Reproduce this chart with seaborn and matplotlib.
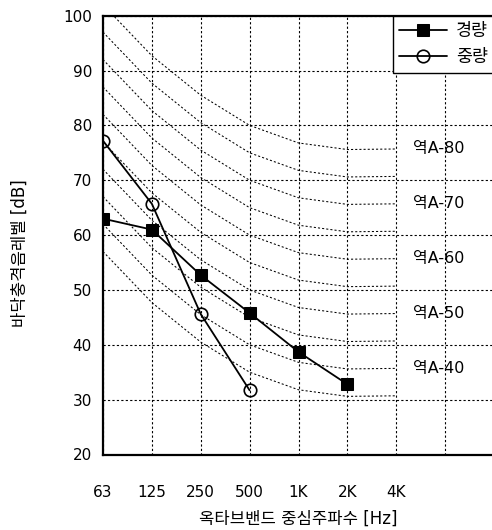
import pandas as pd
import matplotlib
matplotlib.use('Agg')
import matplotlib.pyplot as plt
import seaborn as sns

# octave band centres
bands = ['63', '125', '250', '500', '1K', '2K', '4K']
light_db = [63.0, 61.0, 52.7, 45.8, 38.7, 32.8]   # 경량
heavy_db = [77.2, 65.7, 45.6, 31.7]               # 중량

# 역A curves: shape relative to the 500 Hz value
inv_a_shape = [22.0, 12.7, 5.5, 0.0, -3.2, -4.4, -4.3]
inv_a_levels = [35, 40, 45, 50, 55, 60, 65, 70, 75, 80]
labelled_levels = [40, 50, 60, 70, 80]

sns.set_style('white')
plt.rcParams['font.family'] = ['DejaVu Sans', 'Noto Sans CJK KR']
plt.rcParams['text.color'] = 'black'
plt.rcParams['axes.labelcolor'] = 'black'

fig = plt.figure(figsize=(4.92, 5.30), dpi=100)
ax = fig.add_axes([103 / 492, 75.5 / 530, 391 / 492, 438.8 / 530])

dotted = (0, (2.0, 2.0))

# reference curves
for lvl in inv_a_levels:
    curve = pd.DataFrame({'x': range(len(bands)),
                          'y': [lvl + s for s in inv_a_shape]})
    sns.lineplot(data=curve, x='x', y='y', ax=ax, color='black', lw=0.75,
                 linestyle=dotted, zorder=2)
for lvl in labelled_levels:
    ax.text(6.35, lvl + inv_a_shape[-1], f'역A-{lvl}', fontsize=11.5,
            va='center', ha='left', color='black', zorder=3)

light = pd.DataFrame({'x': range(len(light_db)), 'y': light_db})
heavy = pd.DataFrame({'x': range(len(heavy_db)), 'y': heavy_db})
sns.lineplot(data=light, x='x', y='y', ax=ax, color='black', lw=1.3,
             marker='s', markersize=9, markerfacecolor='black',
             markeredgecolor='black', label='경량', zorder=5)
sns.lineplot(data=heavy, x='x', y='y', ax=ax, color='black', lw=1.3,
             marker='o', markersize=9, markerfacecolor='none',
             markeredgecolor='black', markeredgewidth=1.2, label='중량', zorder=5)

ax.set_xlim(0, 8)
ax.set_ylim(20, 100)
ax.set_xticks(range(9))
ax.set_xticklabels(bands + ['', ''])
ax.set_yticks(range(20, 101, 10))
ax.tick_params(axis='both', length=0, labelsize=11, colors='black')
ax.tick_params(axis='x', pad=22)
ax.tick_params(axis='y', pad=8)
ax.grid(True, color='black', lw=0.8, linestyle=dotted)
ax.set_axisbelow(True)

for side in ['left', 'bottom', 'top']:
    ax.spines[side].set_color('black')
    ax.spines[side].set_linewidth(1.6)
ax.spines['right'].set_visible(False)

ax.set_xlabel('옥타브밴드 중심주파수 [Hz]', fontsize=12, labelpad=7)
ax.set_ylabel('바닥충격음레벨 [dB]', fontsize=12)
ax.yaxis.set_label_coords(-0.19, 0.46)

leg = ax.legend(loc='upper right', borderaxespad=0, fancybox=False,
                fontsize=12.5, handlelength=2.8, handletextpad=0.5,
                borderpad=0.35, labelspacing=0.5, framealpha=1)
leg.get_frame().set_edgecolor('black')
leg.get_frame().set_linewidth(1.0)
leg.set_zorder(10)

fig.savefig('out.png', dpi=100)
